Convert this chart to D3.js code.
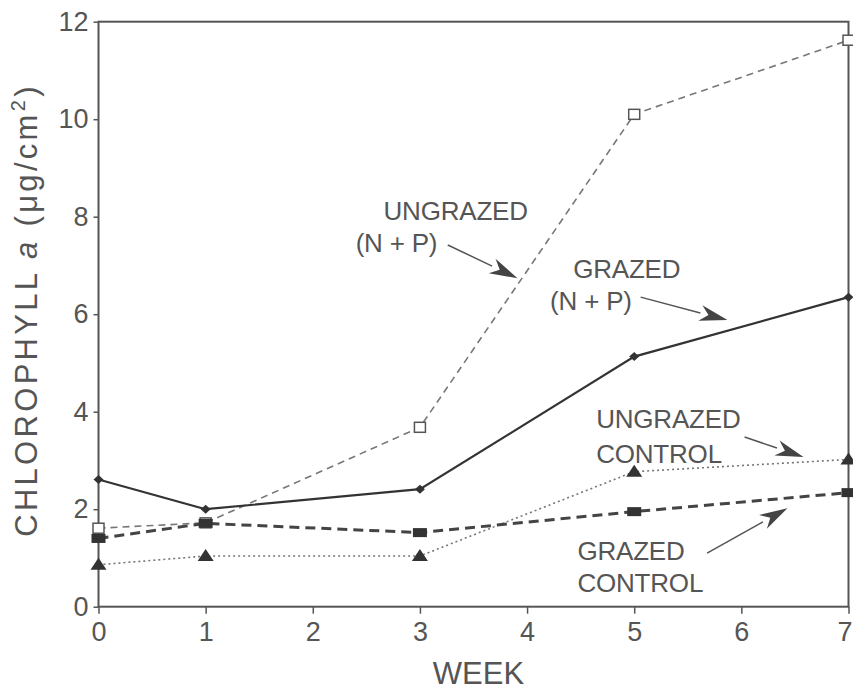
<!DOCTYPE html>
<html>
<head>
<meta charset="utf-8">
<script src="https://cdn.jsdelivr.net/npm/d3@7"></script>
<style>
  html, body { margin: 0; padding: 0; background: #fff; }
  svg { display: block; }
  text { font-family: "Liberation Sans", Arial, sans-serif; fill: #555; }
</style>
</head>
<body>
<svg id="chart" width="853" height="692"></svg>
<script>
// Chlorophyll a (µg/cm²) over the 7-week experiment
const weeks = [0, 1, 3, 5, 7];
const ungrazedNP      = [1.61, 1.72, 3.68, 10.1, 11.62];
const grazedNP        = [2.61, 2.00, 2.41, 5.13, 6.35];
const ungrazedControl = [0.86, 1.04, 1.04, 2.77, 3.02];
const grazedControl   = [1.40, 1.71, 1.52, 1.95, 2.34];
const xTicks = [0, 1, 2, 3, 4, 5, 6, 7];
const yTicks = [0, 2, 4, 6, 8, 10, 12];

const svg = d3.select("#chart");
const x = d3.scaleLinear().domain([0, 7]).range([98.5, 848.5]);
const y = d3.scaleLinear().domain([0, 12]).range([606.7, 21.7]);

const axisColor = "#555";

// frame
svg.append("rect")
  .attr("x", x(0)).attr("y", y(12))
  .attr("width", x(7) - x(0)).attr("height", y(0) - y(12))
  .attr("fill", "none").attr("stroke", axisColor).attr("stroke-width", 2);

// axes
const yAxis = svg.append("g")
  .attr("transform", `translate(${x(0)},0)`)
  .call(d3.axisLeft(y).tickValues(yTicks).tickFormat(d3.format("d"))
    .tickSize(5).tickPadding(5));
const xAxis = svg.append("g")
  .attr("transform", `translate(0,${y(0)})`)
  .call(d3.axisBottom(x).tickValues(xTicks).tickFormat(d3.format("d"))
    .tickSize(7).tickPadding(8));
[yAxis, xAxis].forEach(g => {
  g.select(".domain").remove();
  g.selectAll(".tick line").attr("stroke", axisColor).attr("stroke-width", 1.5);
  g.selectAll(".tick text")
    .style("font-family", "'Liberation Sans', Arial, sans-serif")
    .style("font-size", "27px").attr("fill", "#555");
});
// keep the last week label inside the page edge
xAxis.selectAll(".tick text").filter(d => d === 7).attr("dx", -4);

// axis titles
svg.append("text")
  .attr("x", (x(0) + x(7)) / 2 + 5).attr("y", 684)
  .attr("text-anchor", "middle")
  .style("font-size", "31px")
  .text("WEEK");

const yTitle = svg.append("text")
  .attr("transform", `translate(37,310) rotate(-90)`)
  .attr("text-anchor", "middle")
  .style("font-size", "31px")
  .style("letter-spacing", "3.3px");
yTitle.append("tspan").text("CHLOROPHYLL ");
yTitle.append("tspan").style("font-style", "italic").text("a");
yTitle.append("tspan").text("  (\u03BCg/cm");
yTitle.append("tspan").attr("dy", -12).style("font-size", "20px").text("2");
yTitle.append("tspan").attr("dy", 12).text(")");

// series
const line = d3.line().x((d, i) => x(weeks[i])).y(d => y(d));

svg.append("path").datum(ungrazedNP)
  .attr("d", line).attr("fill", "none")
  .attr("stroke", "#777").attr("stroke-width", 1.6)
  .attr("stroke-dasharray", "7,5");

svg.append("path").datum(ungrazedControl)
  .attr("d", line).attr("fill", "none")
  .attr("stroke", "#777").attr("stroke-width", 1.6)
  .attr("stroke-dasharray", "2,3");

svg.append("path").datum(grazedControl)
  .attr("d", line).attr("fill", "none")
  .attr("stroke", "#444").attr("stroke-width", 3)
  .attr("stroke-dasharray", "10,6");

svg.append("path").datum(grazedNP)
  .attr("d", line).attr("fill", "none")
  .attr("stroke", "#333").attr("stroke-width", 2.2);

// markers
svg.append("g").selectAll("rect").data(ungrazedNP).join("rect")
  .attr("x", (d, i) => x(weeks[i]) - 5.5).attr("y", d => y(d) - 5)
  .attr("width", 11).attr("height", 10)
  .attr("fill", "#fff").attr("stroke", "#555").attr("stroke-width", 1.5);

svg.append("g").selectAll("path").data(ungrazedControl).join("path")
  .attr("d", (d, i) => {
    const cx = x(weeks[i]), cy = y(d);
    return `M${cx - 8},${cy + 5}L${cx},${cy - 7}L${cx + 8},${cy + 5}Z`;
  })
  .attr("fill", "#333");

svg.append("g").selectAll("rect").data(grazedControl).join("rect")
  .attr("x", (d, i) => x(weeks[i]) - 7).attr("y", d => y(d) - 4.5)
  .attr("width", 14).attr("height", 9)
  .attr("fill", "#333");

svg.append("g").selectAll("path").data(grazedNP).join("path")
  .attr("d", (d, i) => {
    const cx = x(weeks[i]), cy = y(d);
    return `M${cx - 5},${cy}L${cx},${cy - 4.5}L${cx + 5},${cy}L${cx},${cy + 4.5}Z`;
  })
  .attr("fill", "#333");

// annotations: label lines and arrows, placed in data units
const notes = [
  { lines: ["UNGRAZED", "(N + P)"], starts: [[2.66, 7.93], [2.40, 7.27]],
    from: [3.26, 7.42], to: [3.91, 6.74] },
  { lines: ["GRAZED", "(N + P)"], starts: [[4.43, 6.74], [4.215, 6.09]],
    from: [5.06, 6.35], to: [5.87, 5.88] },
  { lines: ["UNGRAZED", "CONTROL"], starts: [[4.645, 3.67], [4.645, 2.95]],
    from: [6.03, 3.48], to: [6.58, 3.07] },
  { lines: ["GRAZED", "CONTROL"], starts: [[4.47, 0.96], [4.47, 0.30]],
    from: [5.68, 1.10], to: [6.43, 2.02] }
];

const ann = svg.append("g");
notes.forEach(n => {
  n.lines.forEach((t, k) => {
    ann.append("text")
      .attr("x", x(n.starts[k][0])).attr("y", y(n.starts[k][1]))
      .style("font-size", "26px")
      .style("letter-spacing", "-0.2px")
      .text(t);
  });
  const x1 = x(n.from[0]), y1 = y(n.from[1]);
  const x2 = x(n.to[0]), y2 = y(n.to[1]);
  const ang = Math.atan2(y2 - y1, x2 - x1);
  const len = 28, half = 8;
  const bx = x2 - len * Math.cos(ang), by = y2 - len * Math.sin(ang);
  ann.append("line")
    .attr("x1", x1).attr("y1", y1).attr("x2", bx).attr("y2", by)
    .attr("stroke", "#555").attr("stroke-width", 1.5);
  const px = -Math.sin(ang) * half, py = Math.cos(ang) * half;
  ann.append("path")
    .attr("d", `M${x2},${y2}L${bx + px},${by + py}L${bx + 0.3 * len * Math.cos(ang)},${by + 0.3 * len * Math.sin(ang)}L${bx - px},${by - py}Z`)
    .attr("fill", "#444");
});
</script>
</body>
</html>
